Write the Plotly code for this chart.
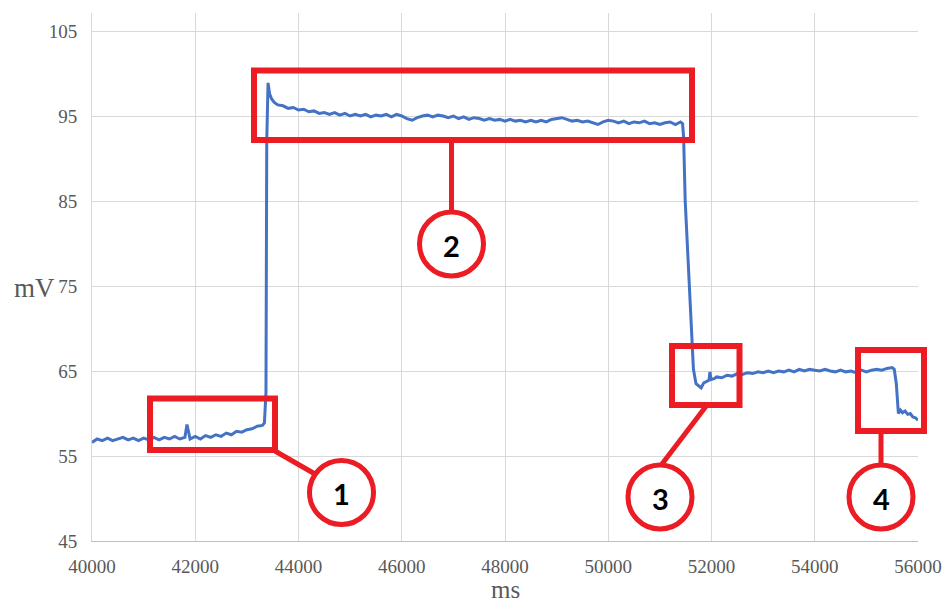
import plotly.graph_objects as go

# ---- recorded signal (ms, mV) by phase ----
rest_t = [40000, 40100, 40200, 40300, 40400, 40500, 40600, 40700, 40800, 40900,
          41000, 41100, 41200, 41300, 41400, 41500, 41600, 41700, 41800, 41840,
          41880, 41900, 42000, 42100, 42200, 42300, 42400, 42500, 42600, 42700,
          42800, 42900, 43000, 43100, 43200, 43300, 43340]
rest_v = [56.6, 57.0, 56.8, 57.1, 56.8, 57.0, 57.2, 56.9, 57.1, 56.8,
          57.1, 56.9, 57.2, 56.9, 57.2, 57.0, 57.3, 57.0, 57.2, 58.7,
          57.3, 57.0, 57.3, 57.0, 57.4, 57.2, 57.5, 57.3, 57.7, 57.5,
          57.9, 57.8, 58.1, 58.2, 58.5, 58.6, 58.9]

high_t = [43370, 43385, 43395, 43410, 43440, 43480, 43530, 43600, 43700, 43800,
          43900, 44000, 44100, 44200, 44300, 44400, 44500, 44600, 44700, 44800,
          44900, 45000, 45100, 45200, 45300, 45400, 45500, 45600, 45700, 45800,
          45900, 46000, 46100, 46200, 46300, 46400, 46500, 46600, 46700, 46800,
          46900, 47000, 47100, 47200, 47300, 47400, 47500, 47600, 47700, 47800,
          47900, 48000, 48100, 48200, 48300, 48400, 48500, 48600, 48700, 48800,
          48900, 49000, 49100, 49200, 49300, 49400, 49500, 49600, 49700, 49800,
          49900, 50000, 50100, 50200, 50300, 50400, 50500, 50600, 50700, 50800,
          50900, 51000, 51100, 51200, 51300, 51400, 51440]
high_v = [62.5, 92.0, 95.3, 98.9, 97.6, 97.0, 96.6, 96.3, 96.2, 95.9,
          96.0, 95.7, 95.8, 95.5, 95.6, 95.3, 95.4, 95.2, 95.4, 95.1,
          95.3, 95.0, 95.2, 95.0, 95.2, 94.9, 95.1, 95.0, 95.2, 94.9,
          95.2, 95.0, 94.7, 94.5, 94.8, 95.0, 95.1, 94.9, 95.1, 95.0,
          94.8, 95.0, 94.7, 94.9, 94.6, 94.8, 94.7, 94.5, 94.7, 94.5,
          94.6, 94.4, 94.6, 94.4, 94.5, 94.3, 94.5, 94.3, 94.5, 94.3,
          94.6, 94.7, 94.8, 94.6, 94.4, 94.5, 94.3, 94.4, 94.2, 94.0,
          94.3, 94.5, 94.4, 94.2, 94.4, 94.1, 94.3, 94.2, 94.4, 94.1,
          94.2, 94.0, 94.2, 94.3, 94.0, 94.3, 94.1]

mid_t = [51460, 51490, 51550, 51590, 51625, 51650, 51700, 51750, 51800, 51850,
         51900, 51950, 51970, 51990, 52050, 52100, 52200, 52300, 52400, 52500,
         52600, 52700, 52800, 52900, 53000, 53100, 53200, 53300, 53400, 53500,
         53600, 53700, 53800, 53900, 54000, 54100, 54200, 54300, 54400, 54500,
         54600, 54700, 54800, 54900, 55000, 55100, 55200, 55300, 55400, 55500,
         55540]
mid_v = [92.5, 85.1, 77.2, 71.3, 67.4, 65.2, 63.5, 63.3, 63.0, 63.6,
         63.8, 63.9, 64.9, 64.0, 64.1, 64.3, 64.2, 64.5, 64.4, 64.7,
         64.6, 64.8, 64.7, 64.9, 64.8, 65.0, 64.8, 65.0, 64.9, 65.1,
         64.9, 65.2, 65.0, 65.2, 65.1, 65.0, 65.2, 65.0, 64.9, 65.1,
         64.9, 65.0, 64.8, 65.1, 64.9, 65.1, 65.2, 65.1, 65.3, 65.4,
         65.2]

tail_t = [55580, 55620, 55660, 55700, 55750, 55800, 55850, 55900, 55950, 56000]
tail_v = [63.5, 60.0, 60.4, 60.1, 60.3, 59.9, 60.0, 59.6, 59.5, 59.2]

x_ticks = [40000, 42000, 44000, 46000, 48000, 50000, 52000, 54000, 56000]
y_ticks = [45, 55, 65, 75, 85, 95, 105]
markers = ["1", "2", "3", "4"]

t = rest_t + high_t + mid_t + tail_t
v = rest_v + high_v + mid_v + tail_v

# ---- page geometry (pixels) ----
W, H = 943, 602
L, R, T, B = 92, 918, 13, 541
PW, PH = R - L, B - T
PX_PER_MV = 8.5

def px(xp):
    return (xp - L) / PW

def py(yp):
    return (B - yp) / PH

RED = "#EC1C24"

fig = go.Figure()
fig.add_trace(go.Scatter(x=t, y=v, mode="lines",
                         line=dict(color="#4472C4", width=3),
                         hoverinfo="skip", showlegend=False))

shapes = []
# highlight boxes (pixel corners)
boxes = [(150, 398.5, 275, 450), (254, 70.5, 692, 140),
         (672, 346, 739.5, 405), (858, 350, 924, 431)]
for x0, y0, x1, y1 in boxes:
    shapes.append(dict(type="rect", xref="paper", yref="paper",
                       x0=px(x0), x1=px(x1), y0=py(y1), y1=py(y0),
                       line=dict(color=RED, width=6)))

# connectors from boxes to the numbered circles
connectors = [(275, 451, 315, 474), (451.5, 140, 451.5, 212),
              (707, 405, 662, 464), (881, 431, 881, 464)]
for x0, y0, x1, y1 in connectors:
    shapes.append(dict(type="line", xref="paper", yref="paper",
                       x0=px(x0), x1=px(x1), y0=py(y0), y1=py(y1),
                       line=dict(color=RED, width=5)))

circles = [(341.5, 492.5), (451.5, 244), (660, 497), (881, 497)]
r = 32
for (cx, cy), label in zip(circles, markers):
    shapes.append(dict(type="circle", xref="paper", yref="paper",
                       x0=px(cx - r), x1=px(cx + r), y0=py(cy + r), y1=py(cy - r),
                       fillcolor="white", line=dict(color=RED, width=5)))

annotations = []
for (cx, cy), label in zip(circles, markers):
    annotations.append(dict(x=px(cx), y=py(cy + 1), xref="paper", yref="paper",
                            text=f"<b>{label}</b>", showarrow=False,
                            font=dict(family="Lato, Open Sans, sans-serif",
                                      size=29, color="black"),
                            xanchor="center", yanchor="middle"))

annotations.append(dict(x=px(34), y=py(288), xref="paper", yref="paper",
                        text="mV", showarrow=False,
                        font=dict(family="Liberation Serif, serif", size=27,
                                  color="#595959"),
                        xanchor="center", yanchor="middle"))
annotations.append(dict(x=px(505), y=py(589), xref="paper", yref="paper",
                        text="ms", showarrow=False,
                        font=dict(family="Liberation Serif, serif", size=25,
                                  color="#595959"),
                        xanchor="center", yanchor="middle"))

tick_font = dict(family="Liberation Serif, serif", size=19, color="#595959")

fig.update_layout(
    width=W, height=H, autosize=False,
    margin=dict(l=L, r=W - R, t=T, b=H - B, autoexpand=False),
    paper_bgcolor="white", plot_bgcolor="white",
    shapes=shapes, annotations=annotations,
    xaxis=dict(range=[40000, 56000], tickvals=x_ticks,
               ticktext=[str(x) for x in x_ticks], automargin=False,
               showgrid=True, gridcolor="#D9D9D9", gridwidth=1,
               showline=True, linecolor="#BFBFBF", linewidth=1,
               zeroline=False, ticks="", tickfont=tick_font,
               ticklabelstandoff=8, fixedrange=True),
    yaxis=dict(range=[45, 45 + PH / PX_PER_MV], tickvals=y_ticks,
               automargin=False,
               showgrid=True, gridcolor="#D9D9D9", gridwidth=1,
               showline=True, linecolor="#D9D9D9", linewidth=1,
               zeroline=False, ticks="", tickfont=tick_font,
               ticklabelstandoff=10, fixedrange=True),
)

page_style = ("document.body.style.margin='0';"
              "document.body.style.overflow='hidden';")

fig.write_html("out.html",
               config={"displayModeBar": False, "responsive": False},
               post_script=page_style)
